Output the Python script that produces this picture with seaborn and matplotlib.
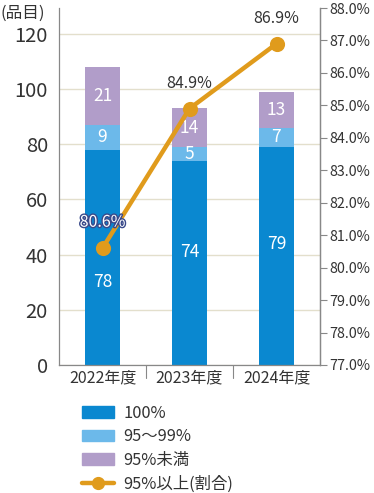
import matplotlib
matplotlib.use("Agg")
import matplotlib.pyplot as plt
import matplotlib.patheffects as pe
from matplotlib.lines import Line2D
from matplotlib.patches import Patch
import seaborn as sns
import pandas as pd

years = ["2022年度", "2023年度", "2024年度"]
full = [78, 74, 79]          # 100%
mid = [9, 5, 7]              # 95~99%
low = [21, 14, 13]           # 95%未満
ratio = [80.6, 84.9, 86.9]   # 95%以上(割合)

series_names = ["100%", "95〜99%", "95%未満", "95%以上(割合)"]
colors = ["#0a88d0", "#6cb9ea", "#b19dc9", "#e09b1c"]

sns.set_style("white")
plt.rcParams["font.family"] = ["Noto Sans CJK JP", "DejaVu Sans"]

df = pd.DataFrame({"year": years, "full": full, "mid": mid, "low": low, "ratio": ratio})
df["s1"] = df["full"]
df["s2"] = df["full"] + df["mid"]
df["s3"] = df["s2"] + df["low"]

fig = plt.figure(figsize=(3.74, 4.93), dpi=100)
ax = fig.add_axes([59 / 374, 1 - 365 / 493, 261 / 374, 357 / 493])

# stacked bars by drawing cumulative totals, tallest first
for col, c in zip(["s3", "s2", "s1"], [colors[2], colors[1], colors[0]]):
    sns.barplot(data=df, x="year", y=col, color=c, width=0.41, ax=ax,
                saturation=1, edgecolor="none", zorder=2)

# the 100% labels sit a little off-centre in the original (2022 is pushed down under the marker)
full_label_y = [30, 41, 44]
for i in range(3):
    ax.text(i, full_label_y[i], str(full[i]), ha="center", va="center", color="white", fontsize=12.5)
    ax.text(i, full[i] + mid[i] / 2, str(mid[i]), ha="center", va="center", color="white", fontsize=12.5)
    ax.text(i, full[i] + mid[i] + low[i] / 2, str(low[i]), ha="center", va="center", color="white", fontsize=12.5)

ax.set_ylim(0, 129.3)
ax.set_yticks([0, 20, 40, 60, 80, 100, 120])
ax.set_xlim(-0.5, 2.5)
ax.set_xlabel("")
ax.set_ylabel("")
ax.yaxis.grid(True, color="#e3dfcc", linewidth=1, zorder=0)
ax.set_axisbelow(True)
ax.tick_params(axis="y", labelsize=14.5, colors="#333333", length=0, pad=8)
ax.set_xticks([0, 1, 2])
ax.set_xticklabels(years, fontsize=11.5, color="#333333")
ax.tick_params(axis="x", length=0, pad=3)
for b in [0.5, 1.5]:
    ax.plot([b, b], [0, -0.037], transform=ax.get_xaxis_transform(), color="#888888",
            linewidth=0.8, clip_on=False)
ax.spines["top"].set_visible(False)
for s in ["left", "bottom", "right"]:
    ax.spines[s].set_color("#888888")
    ax.spines[s].set_linewidth(0.9)
ax.text(-59 / 261, 0.985, "(品目)", transform=ax.transAxes, fontsize=12, color="#333333",
        ha="left", va="center")

ax2 = ax.twinx()
sns.pointplot(x=years, y=ratio, ax=ax2, color=colors[3], markers="o",
              markersize=8.5, linewidth=3.2)
ax2.set_ylim(77, 88)
ax2.set_xlim(-0.5, 2.5)
ax2.set_yticks([77, 78, 79, 80, 81, 82, 83, 84, 85, 86, 87, 88])
ax2.set_yticklabels([f"{v:.1f}%" for v in range(77, 89)])
ax2.tick_params(axis="y", labelsize=10.3, colors="#333333", length=5, width=0.8,
                color="#888888", pad=2)
ax2.spines["top"].set_visible(False)
ax2.spines["left"].set_visible(False)
ax2.spines["bottom"].set_visible(False)
ax2.spines["right"].set_color("#888888")
ax2.spines["right"].set_linewidth(0.9)

ax2.text(0, ratio[0] + 0.8, f"{ratio[0]}%", ha="center", va="center", fontsize=11.5,
         color="white", path_effects=[pe.withStroke(linewidth=2, foreground="#3a4a8a")])
for i in [1, 2]:
    ax2.text(i, ratio[i] + 0.78, f"{ratio[i]}%", ha="center", va="center", fontsize=11.5,
             color="#333333")

handles = [Patch(color=colors[0]), Patch(color=colors[1]), Patch(color=colors[2]),
           Line2D([0], [0], color=colors[3], linewidth=3.2, marker="o", markersize=8.5)]
fig.legend(handles, series_names, loc="upper left", bbox_to_anchor=(67 / 374, 1 - 390 / 493),
           frameon=False, fontsize=11.8, handlelength=1.95, handleheight=0.7,
           labelspacing=0.40, handletextpad=0.6, labelcolor="#333333")

fig.savefig("out.png", dpi=100)
